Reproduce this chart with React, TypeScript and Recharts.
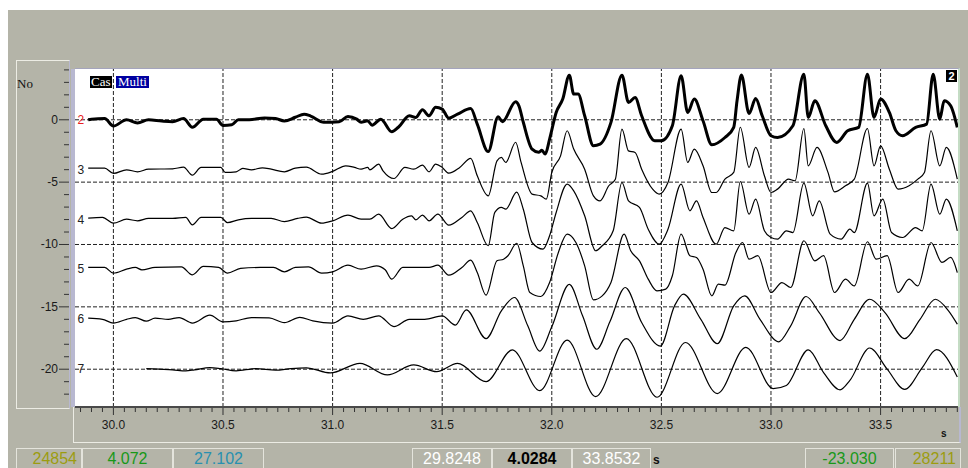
import { LineChart, Line, XAxis, YAxis, ReferenceLine, ReferenceDot } from 'recharts'

const X_MIN = 29.8248
const X_MAX = 33.8532
const Y_MIN = -23.03
const Y_MAX = 4.072

// channel traces, [time s, value]
const CH2: [number, number][] = [
  [29.885, 0], [29.9, 0.05], [29.96, 0.1], [30.0, -0.5], [30.06, 0], [30.11, -0.25], [30.16, 0], [30.22, -0.1],
  [30.27, -0.15], [30.32, 0.1], [30.36, -0.6], [30.41, 0.05], [30.47, 0.05], [30.5, -0.45], [30.54, -0.4],
  [30.57, 0], [30.62, 0], [30.69, 0.15], [30.74, 0.1], [30.78, -0.1], [30.83, 0.2], [30.87, 0.45], [30.9, 0.3],
  [30.96, -0.2], [31.03, -0.15], [31.07, 0.27], [31.11, 0.05], [31.13, -0.2], [31.16, -0.08], [31.18, -0.43],
  [31.22, 0.05], [31.27, -0.96], [31.3, -0.6], [31.35, 0.32], [31.38, 0.19], [31.41, 0.8], [31.44, 0.32],
  [31.47, 1.0], [31.5, 0.86], [31.53, 0.13], [31.57, 0.45], [31.63, 0.9], [31.66, -0.35], [31.71, -2.55],
  [31.755, 0.25], [31.775, -0.15], [31.835, 1.45], [31.85, 1.12], [31.87, -0.2], [31.91, -2.35], [31.94, -2.6],
  [31.955, -2.45], [31.97, -2.75], [31.99, -1.55], [32.02, 0.59], [32.05, 1.66], [32.08, 3.58], [32.1, 2.06],
  [32.12, 2.06], [32.15, 0.32], [32.19, -2.08], [32.22, -1.95], [32.27, -0.21], [32.32, 3.58], [32.35, 1.39],
  [32.38, 1.79], [32.41, 0.32], [32.47, -1.68], [32.5, -1.68], [32.55, -0.48], [32.59, 3.53], [32.62, 0.59],
  [32.65, 1.66], [32.69, -0.08], [32.73, -2.0], [32.79, -1.42], [32.83, -0.61], [32.845, 1.5], [32.865, 3.6],
  [32.9, 0.5], [32.93, 1.7], [32.96, 0.32], [33.0, -1.28], [33.03, -1.42], [33.1, -0.48], [33.15, 3.66],
  [33.17, 0.19], [33.2, 1.52], [33.25, -0.48], [33.3, -1.82], [33.35, -0.88], [33.4, -0.61], [33.44, 3.66],
  [33.47, 0.19], [33.5, 1.66], [33.54, 0.59], [33.57, -0.88], [33.6, -1.28], [33.66, -0.61], [33.71, -0.35],
  [33.74, 3.66], [33.77, 0.05], [33.79, 1.52], [33.82, 1.12], [33.85, -0.61],
]

const CH3: [number, number][] = [
  [29.885, -3.88], [29.96, -3.88], [30.0, -4.3], [30.06, -4.01], [30.11, -4.17], [30.16, -3.96], [30.27, -3.93],
  [30.32, -3.8], [30.36, -4.44], [30.4, -3.82], [30.49, -3.82], [30.51, -4.22], [30.56, -4.17], [30.59, -3.9],
  [30.63, -4.01], [30.68, -3.85], [30.72, -3.96], [30.78, -4.17], [30.83, -3.88], [30.88, -3.8], [30.95, -4.36],
  [31.0, -4.14], [31.06, -3.69], [31.1, -3.82], [31.13, -3.96], [31.16, -3.82], [31.17, -4.01], [31.21, -3.56],
  [31.23, -4.09], [31.28, -4.71], [31.33, -3.82], [31.37, -3.96], [31.41, -3.64], [31.44, -4.17], [31.47, -3.56],
  [31.5, -3.82], [31.53, -4.28], [31.58, -3.82], [31.63, -3.1], [31.66, -4.49], [31.71, -6.1], [31.75, -3.29],
  [31.77, -3.02], [31.79, -3.42], [31.835, -1.8], [31.86, -3.42], [31.91, -5.96], [31.95, -6.1], [31.975, -6.36],
  [32.0, -4.22], [32.04, -2.89], [32.07, -0.88], [32.1, -2.35], [32.15, -3.96], [32.19, -6.1], [32.22, -6.5],
  [32.26, -5.29], [32.29, -4.76], [32.32, -0.75], [32.35, -2.49], [32.38, -2.62], [32.41, -3.96], [32.46, -5.56],
  [32.49, -5.96], [32.53, -5.03], [32.59, -0.75], [32.62, -3.42], [32.65, -2.35], [32.69, -3.69], [32.73, -5.83],
  [32.75, -5.83], [32.79, -4.76], [32.83, -4.22], [32.86, -0.6], [32.9, -3.82], [32.93, -2.22], [32.97, -4.49],
  [33.0, -5.83], [33.03, -5.56], [33.08, -4.76], [33.11, -4.89], [33.15, -0.7], [33.17, -3.69], [33.21, -2.22],
  [33.26, -4.22], [33.29, -5.78], [33.34, -5.29], [33.38, -4.76], [33.44, -0.7], [33.47, -3.69], [33.5, -2.09],
  [33.54, -3.96], [33.58, -5.56], [33.63, -5.29], [33.67, -4.76], [33.7, -4.22], [33.73, -0.88], [33.77, -3.69],
  [33.8, -2.22], [33.85, -4.76],
]

const CH4: [number, number][] = [
  [29.885, -7.89], [29.95, -7.83], [30.0, -8.29], [30.06, -7.97], [30.11, -8.1], [30.16, -7.91], [30.27, -7.91],
  [30.33, -7.83], [30.36, -8.42], [30.4, -7.83], [30.49, -7.83], [30.52, -8.24], [30.57, -8.02], [30.63, -7.91],
  [30.72, -7.91], [30.78, -8.16], [30.84, -7.91], [30.88, -7.8], [30.95, -8.29], [31.0, -8.1], [31.07, -7.64],
  [31.13, -7.97], [31.17, -7.97], [31.21, -7.57], [31.27, -8.72], [31.32, -7.97], [31.36, -7.7], [31.38, -8.02],
  [31.41, -7.64], [31.44, -8.1], [31.48, -7.57], [31.53, -8.45], [31.59, -7.83], [31.63, -7.3], [31.66, -8.24],
  [31.71, -10.1], [31.74, -7.43], [31.77, -7.03], [31.79, -7.17], [31.84, -5.8], [31.87, -7.17], [31.91, -9.84],
  [31.96, -10.37], [31.99, -9.3], [32.02, -7.43], [32.07, -5.16], [32.1, -5.7], [32.15, -7.7], [32.2, -10.5],
  [32.23, -10.1], [32.28, -8.9], [32.32, -5.03], [32.35, -6.5], [32.4, -7.03], [32.44, -8.78], [32.49, -9.97],
  [32.53, -8.78], [32.59, -5.16], [32.63, -7.3], [32.66, -6.5], [32.69, -7.83], [32.75, -9.97], [32.79, -8.64],
  [32.83, -8.9], [32.86, -4.95], [32.9, -7.57], [32.93, -6.36], [32.97, -8.9], [33.0, -9.44], [33.03, -9.57],
  [33.07, -8.9], [33.1, -9.04], [33.15, -5.08], [33.19, -7.7], [33.22, -6.5], [33.27, -9.17], [33.32, -9.57],
  [33.36, -8.77], [33.38, -9.04], [33.44, -5.08], [33.47, -7.7], [33.51, -6.36], [33.55, -9.04], [33.6, -9.44],
  [33.66, -8.64], [33.69, -8.9], [33.73, -5.16], [33.77, -7.57], [33.8, -6.36], [33.85, -8.9],
]

const CH5: [number, number][] = [
  [29.885, -11.84], [29.96, -11.84], [30.0, -12.3], [30.06, -11.98], [30.1, -11.84], [30.13, -12.03],
  [30.19, -11.84], [30.31, -11.79], [30.36, -12.43], [30.41, -11.76], [30.48, -11.84], [30.52, -12.3],
  [30.58, -11.92], [30.67, -11.84], [30.73, -11.84], [30.78, -12.19], [30.83, -11.84], [30.89, -11.79],
  [30.95, -12.3], [31.0, -12.19], [31.07, -11.66], [31.13, -11.98], [31.2, -11.71], [31.24, -12.03],
  [31.27, -12.78], [31.32, -11.84], [31.38, -11.84], [31.44, -11.84], [31.48, -11.66], [31.53, -12.46],
  [31.59, -11.84], [31.63, -11.26], [31.66, -12.25], [31.7, -14.06], [31.75, -11.31], [31.78, -11.18],
  [31.8, -10.9], [31.84, -9.9], [31.87, -11.71], [31.9, -13.85], [31.95, -14.17], [31.99, -13.05], [32.03, -10.64],
  [32.07, -9.17], [32.11, -9.84], [32.15, -11.71], [32.19, -14.44], [32.23, -14.12], [32.27, -13.05],
  [32.33, -9.17], [32.36, -10.5], [32.4, -11.31], [32.44, -12.78], [32.48, -13.72], [32.52, -13.58],
  [32.55, -12.51], [32.59, -9.17], [32.63, -10.9], [32.66, -11.04], [32.69, -11.98], [32.73, -14.12],
  [32.76, -13.18], [32.79, -13.26], [32.84, -10.64], [32.87, -9.84], [32.9, -11.18], [32.94, -10.9],
  [33.0, -13.85], [33.05, -13.05], [33.09, -13.45], [33.15, -9.7], [33.2, -11.31], [33.24, -10.9],
  [33.29, -13.85], [33.34, -12.78], [33.38, -13.32], [33.44, -9.78], [33.48, -11.18], [33.53, -10.9],
  [33.58, -13.85], [33.63, -12.78], [33.67, -13.32], [33.73, -9.84], [33.78, -11.44], [33.82, -11.04],
  [33.85, -12.25],
]

const CH6: [number, number][] = [
  [29.885, -15.91], [29.95, -16], [30.0, -16.3], [30.06, -16], [30.1, -15.86], [30.15, -16.15], [30.19, -15.91],
  [30.25, -16], [30.3, -15.86], [30.36, -16.3], [30.44, -15.67], [30.5, -16.2], [30.56, -16.12], [30.63, -15.86],
  [30.71, -15.88], [30.78, -16.26], [30.85, -15.84], [30.91, -16.12], [31.0, -16.3], [31.07, -15.72],
  [31.14, -16], [31.21, -15.72], [31.28, -16.58], [31.35, -16], [31.42, -16], [31.5, -15.73], [31.56, -16.46],
  [31.61, -15.25], [31.7, -17.54], [31.77, -15.32], [31.83, -14.25], [31.89, -16.5], [31.945, -18.55],
  [32.0, -16.6], [32.08, -13.2], [32.14, -15.7], [32.205, -18.4], [32.265, -16.2], [32.335, -13.45],
  [32.41, -16.26], [32.495, -18.15], [32.56, -14.92], [32.6, -13.98], [32.68, -16], [32.755, -17.95],
  [32.83, -14.92], [32.88, -14.12], [32.95, -16], [33.035, -17.8], [33.09, -16.52], [33.16, -14.17],
  [33.22, -15.46], [33.315, -17.7], [33.38, -16], [33.45, -14.39], [33.52, -15.46], [33.61, -17.55],
  [33.68, -16], [33.75, -14.39], [33.81, -15.32], [33.85, -16.39],
]

const CH7: [number, number][] = [
  [30.15, -19.95], [30.21, -20], [30.27, -20.05], [30.33, -20.13], [30.37, -20.05], [30.44, -19.87],
  [30.49, -19.95], [30.56, -20.13], [30.65, -19.95], [30.74, -20.08], [30.81, -19.95], [30.88, -19.89],
  [30.99, -20.3], [31.125, -19.53], [31.25, -20.46], [31.37, -19.66], [31.475, -20.2], [31.57, -19.53],
  [31.7, -21.0], [31.82, -18.45], [31.945, -21.72], [32.07, -17.66], [32.2, -22.2], [32.34, -17.55],
  [32.48, -22.25], [32.61, -17.86], [32.755, -21.95], [32.885, -18.25], [33.01, -21.55], [33.07, -21.3],
  [33.17, -18.45], [33.24, -20.27], [33.315, -21.65], [33.36, -20.9], [33.45, -18.3], [33.53, -20.0],
  [33.61, -21.62], [33.69, -19.87], [33.755, -18.43], [33.85, -20.62],
]

const CHANNELS = [CH2, CH3, CH4, CH5, CH6, CH7]
const CHANNEL_NAMES = ['2', '3', '4', '5', '6', '7']
const CHANNEL_BASE = [0, -4, -8, -12, -16, -20]
const CHANNEL_WIDTH = [3, 1.2, 1.2, 1.2, 1.2, 1.2]
const LABEL_T = 29.852

const GRID_X = [30.0, 30.5, 31.0, 31.5, 32.0, 32.5, 33.0, 33.5]
const GRID_Y = [0, -5, -10, -15, -20]
const X_TICKS = Array.from({ length: 81 }, (_, i) => Math.round((29.85 + i * 0.05) * 100) / 100)
const Y_TICKS = Array.from({ length: 27 }, (_, i) => 4 - i)

const LEFT_STATUS = ['24854', '4.072', '27.102']
const MID_STATUS = ['29.8248', '4.0284', '33.8532']
const RIGHT_STATUS = ['-23.030', '28211']

const GRAY = '#b4b4a8'
const FONT = '"Liberation Sans", Arial, sans-serif'
const SERIF = '"Liberation Serif", "Times New Roman", serif'

const XTick = (props: any) => {
  const { x, y, payload } = props
  const v = payload.value as number
  const major = GRID_X.some((g) => Math.abs(g - v) < 1e-6)
  return (
    <g>
      <line x1={x} x2={x} y1={y + 1} y2={y + (major ? 8 : 5)} stroke="#333" strokeWidth={1} />
      {major && (
        <text x={x} y={y + 22} textAnchor="middle" fontSize={12} fill="#1a1a1a" style={{ fontFamily: FONT }}>
          {v.toFixed(1)}
        </text>
      )}
    </g>
  )
}

const YTick = (props: any) => {
  const { x, y, payload } = props
  const v = payload.value as number
  const major = GRID_Y.includes(v)
  return (
    <g>
      <line x1={x - (major ? 16 : 11)} x2={x - 6} y1={y} y2={y} stroke="#333" strokeWidth={1} />
      {major && (
        <text x={x - 17} y={y + 4} textAnchor="end" fontSize={12} fill="#1a1a1a" style={{ fontFamily: FONT }}>
          {v}
        </text>
      )}
    </g>
  )
}

const box = (left: number, width: number, color: string, align: 'center' | 'right', bold = false) => ({
  position: 'absolute' as const,
  left,
  top: 448,
  width,
  height: 20,
  boxSizing: 'border-box' as const,
  border: '1px solid #e4e4dc',
  borderBottom: 'none',
  color,
  fontFamily: FONT,
  fontSize: 16,
  fontWeight: bold ? 700 : 400,
  lineHeight: '19px',
  textAlign: align,
  paddingRight: align === 'right' ? 4 : 0,
})

const App = () => {
  return (
    <div style={{ position: 'absolute', left: 0, top: 0, width: 968, height: 468, background: '#fff', overflow: 'hidden' }}>
      <div style={{ position: 'absolute', left: 8, top: 10, width: 960, height: 458, background: GRAY }} />
      {/* y axis panel */}
      <div
        style={{
          position: 'absolute', left: 16, top: 60, width: 54, height: 349, boxSizing: 'border-box',
          border: '1px solid #ecece4', borderRight: '1px solid #b8b8d0',
        }}
      />
      <div style={{ position: 'absolute', left: 17, top: 76, fontFamily: SERIF, fontSize: 13, color: '#111' }}>No</div>
      {/* x axis panel */}
      <div
        style={{
          position: 'absolute', left: 73, top: 407, width: 888, height: 36, boxSizing: 'border-box',
          borderLeft: '1px solid #ecece4', borderBottom: '1px solid #ecece4', borderRight: '2px solid #b8b8d0',
        }}
      />
      <div style={{ position: 'absolute', left: 71, top: 69, width: 4, height: 338, background: '#b8b8d0' }} />
      {/* plot background */}
      <div
        style={{
          position: 'absolute', left: 75, top: 68, width: 885, height: 339, boxSizing: 'border-box',
          background: '#fff', borderTop: '1px solid #a4a4bc', borderRight: '2px solid #c4dcc4',
        }}
      />
      <div style={{ position: 'absolute', left: 0, top: 0 }}>
        <LineChart width={968} height={468} margin={{ top: 69, right: 10, bottom: 26, left: 15 }}>
          <XAxis
            type="number"
            dataKey="t"
            domain={[X_MIN, X_MAX]}
            allowDataOverflow
            ticks={X_TICKS}
            interval={0}
            height={35}
            tickSize={0}
            tickMargin={0}
            tickLine={false}
            axisLine={{ stroke: '#4a4a4a', strokeWidth: 2 }}
            tick={(p: any) => <XTick {...p} />}
          />
          <YAxis
            type="number"
            domain={[Y_MIN, Y_MAX]}
            allowDataOverflow
            ticks={Y_TICKS}
            interval={0}
            width={60}
            tickSize={0}
            tickMargin={0}
            tickLine={false}
            axisLine={false}
            tick={(p: any) => <YTick {...p} />}
          />
          {GRID_Y.map((v) => (
            <ReferenceLine key={`gy${v}`} y={v} stroke="#222" strokeDasharray="4 2" />
          ))}
          {GRID_X.map((v) => (
            <ReferenceLine key={`gx${v}`} x={v} stroke="#222" strokeDasharray="4 2" />
          ))}
          {CHANNELS.map((ch, i) => (
            <Line
              key={CHANNEL_NAMES[i]}
              data={ch.map(([t, v]) => ({ t, v }))}
              dataKey="v"
              type="monotone"
              stroke="#000"
              strokeWidth={CHANNEL_WIDTH[i]}
              dot={false}
              activeDot={false}
              isAnimationActive={false}
            />
          ))}
          {CHANNEL_NAMES.map((name, i) => (
            <ReferenceDot
              key={`lbl${name}`}
              x={LABEL_T}
              y={CHANNEL_BASE[i]}
              r={0}
              shape={(p: any) => (
                <text
                  x={p.cx}
                  y={p.cy + 4}
                  textAnchor="middle"
                  fontSize={12}
                  fill={i === 0 ? '#e82020' : '#222'}
                  style={{ fontFamily: FONT }}
                >
                  {name}
                </text>
              )}
            />
          ))}
        </LineChart>
      </div>
      {/* top labels */}
      <div style={{ position: 'absolute', left: 90, top: 76, height: 12, padding: '0 1px', background: '#000', color: '#fff', fontFamily: SERIF, fontSize: 13, lineHeight: '12px' }}>Cas</div>
      <div style={{ position: 'absolute', left: 116, top: 76, height: 12, padding: '0 2px', background: '#0000a0', color: '#fff', fontFamily: SERIF, fontSize: 13, lineHeight: '12px' }}>Multi</div>
      <div style={{ position: 'absolute', left: 946, top: 70, width: 11, height: 12, background: '#000', color: '#fff', fontFamily: FONT, fontSize: 11, fontWeight: 700, lineHeight: '12px', textAlign: 'center' }}>2</div>
      <div style={{ position: 'absolute', left: 941, top: 428, fontFamily: FONT, fontSize: 10, fontWeight: 700, color: '#111' }}>s</div>
      {/* status bar */}
      <div style={box(16, 66, '#9c9c10', 'right')}>{LEFT_STATUS[0]}</div>
      <div style={box(82, 91, '#189818', 'center')}>{LEFT_STATUS[1]}</div>
      <div style={box(173, 91, '#2890b0', 'center')}>{LEFT_STATUS[2]}</div>
      <div style={box(412, 80, '#ffffff', 'center')}>{MID_STATUS[0]}</div>
      <div style={box(492, 80, '#000000', 'center', true)}>{MID_STATUS[1]}</div>
      <div style={box(572, 79, '#ffffff', 'center')}>{MID_STATUS[2]}</div>
      <div style={{ position: 'absolute', left: 653, top: 453, fontFamily: FONT, fontSize: 12, fontWeight: 700, color: '#111' }}>s</div>
      <div style={box(805, 89, '#189818', 'center')}>{RIGHT_STATUS[0]}</div>
      <div style={box(895, 66, '#9c9c10', 'right')}>{RIGHT_STATUS[1]}</div>
    </div>
  )
}

export default App
